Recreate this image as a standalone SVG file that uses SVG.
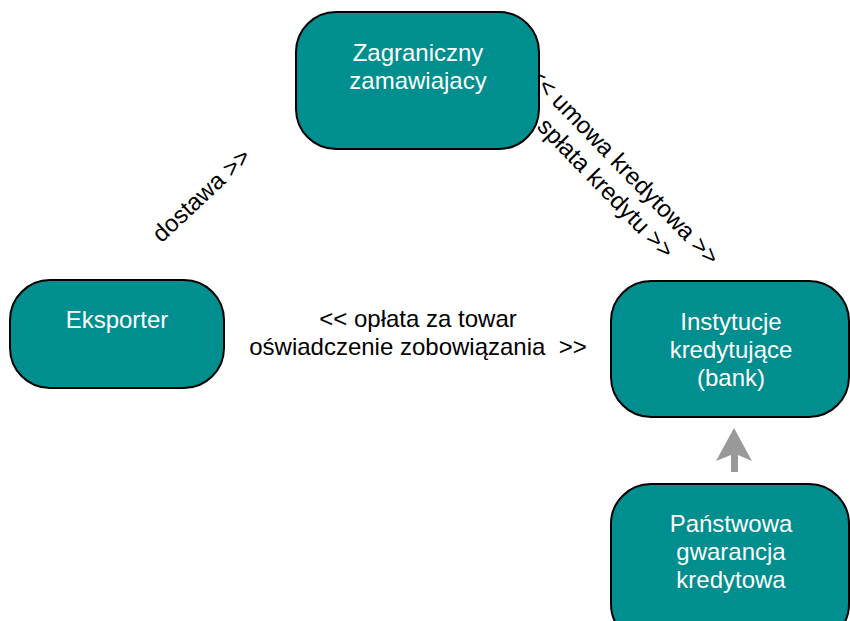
<svg xmlns="http://www.w3.org/2000/svg" width="850" height="621" viewBox="0 0 850 621">
<style>
.node rect{fill:#008e8e;stroke:#000;stroke-width:2}
.node text{fill:#fff;font-family:"Liberation Sans",Arial,sans-serif;font-size:24px;text-anchor:middle}
.lbl{fill:#000;font-family:"Liberation Sans",Arial,sans-serif;font-size:24px;text-anchor:middle}
</style>
<rect width="850" height="621" fill="#fff"/>
<g id="connectors">
<text class="lbl" transform="translate(202,196) rotate(-43)" y="7">dostawa &gt;&gt;</text>
<g transform="translate(613,177) rotate(46)">
<text class="lbl" x="0" y="-7">&lt;&lt; umowa kredytowa &gt;&gt;</text>
<text class="lbl" x="3" y="21">spłata kredytu &gt;&gt;</text>
</g>
<text class="lbl" x="418" y="327">&lt;&lt; opłata za towar</text>
<text class="lbl" x="418" y="355" xml:space="preserve">oświadczenie zobowiązania  &gt;&gt;</text>
<polygon points="734,428 752,461 738,455 738,472 731,472 731,455 716,461" fill="#999"/>
</g>
<g id="zagraniczny" class="node">
<rect x="296" y="12" width="243" height="137" rx="40"/>
<text x="418" y="61">Zagraniczny</text>
<text x="418" y="89">zamawiajacy</text>
</g>
<g id="eksporter" class="node">
<rect x="10" y="280" width="214" height="108" rx="40"/>
<text x="117" y="328">Eksporter</text>
</g>
<g id="instytucje" class="node">
<rect x="611" y="281" width="238" height="136" rx="40"/>
<text x="731" y="330">Instytucje</text>
<text x="731" y="358">kredytujące</text>
<text x="731" y="386">(bank)</text>
</g>
<g id="panstwowa" class="node">
<rect x="611" y="484" width="238" height="160" rx="40"/>
<text x="731" y="532">Państwowa</text>
<text x="731" y="560">gwarancja</text>
<text x="731" y="588">kredytowa</text>
</g>
</svg>
